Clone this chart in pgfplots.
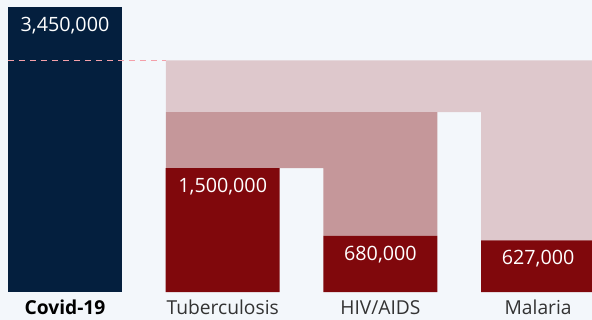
\documentclass[border=0pt]{standalone}
\usepackage{fontspec}
\setmainfont{Open Sans}
\usepackage{pgfplots}
\pgfplotsset{compat=1.18}
\definecolor{navy}{RGB}{4,31,62}
\definecolor{dred}{RGB}{128,8,12}
\definecolor{mpink}{RGB}{197,151,154}
\definecolor{lpink}{RGB}{222,200,204}
\definecolor{bg}{RGB}{243,247,251}
\definecolor{dash}{RGB}{244,160,170}
\begin{document}
\begin{tikzpicture}
\begin{axis}[
  scale only axis, width=592bp, height=320bp,
  xmin=-0.4122, xmax=3.3418,
  ymin=-339400, ymax=3539400,
  axis line style={draw=none},
  axis background/.style={fill=bg},
  ytick=\empty,
  xtick={0,1,2,3},
  xticklabels={{\color{black}\textbf{Covid-19}},Tuberculosis,HIV/AIDS,Malaria},
  major tick length=0pt,
  xticklabel style={anchor=base, yshift=5.7bp, font=\fontsize{19.3}{19.3}\selectfont, text=black!80},
  bar width=0.7229,
  clip=true,
]
% light pink cumulative area
\addplot[sharp plot, fill=lpink, draw=none] coordinates {
  (0.640,2807000) (3.40,2807000) (3.40,627000) (2.638,627000) (2.638,2180000) (0.640,2180000)} -- cycle;
% medium pink cumulative area
\addplot[sharp plot, fill=mpink, draw=none] coordinates {
  (0.640,2180000) (2.361,2180000) (2.361,680000) (1.638,680000) (1.638,1500000) (0.640,1500000)} -- cycle;
\addplot[ybar, bar shift=0pt, fill=navy, draw=none,
  nodes near coords={\pgfmathprintnumber[fixed,precision=0,1000 sep={,},assume math mode=true]{\pgfplotspointmeta}},
  every node near coord/.append style={anchor=base, yshift=-24.5bp, font=\fontsize{19.8}{19.8}\selectfont, text=white}]
  coordinates {(0,3450000)};
\addplot[ybar, bar shift=0pt, fill=dred, draw=none,
  nodes near coords={\pgfmathprintnumber[fixed,precision=0,1000 sep={,},assume math mode=true]{\pgfplotspointmeta}},
  every node near coord/.append style={anchor=base, yshift=-24.5bp, font=\fontsize{19.8}{19.8}\selectfont, text=white}]
  coordinates {(1,1500000) (2,680000) (3,627000)};
\addplot[sharp plot, draw=dash, line width=1bp, dash pattern=on 6bp off 5bp, mark=none] coordinates {(-0.3615,2807000) (0.640,2807000)};
\end{axis}
\pgfresetboundingbox
\path (current axis.south west) rectangle (current axis.north east);
\end{tikzpicture}
\end{document}
